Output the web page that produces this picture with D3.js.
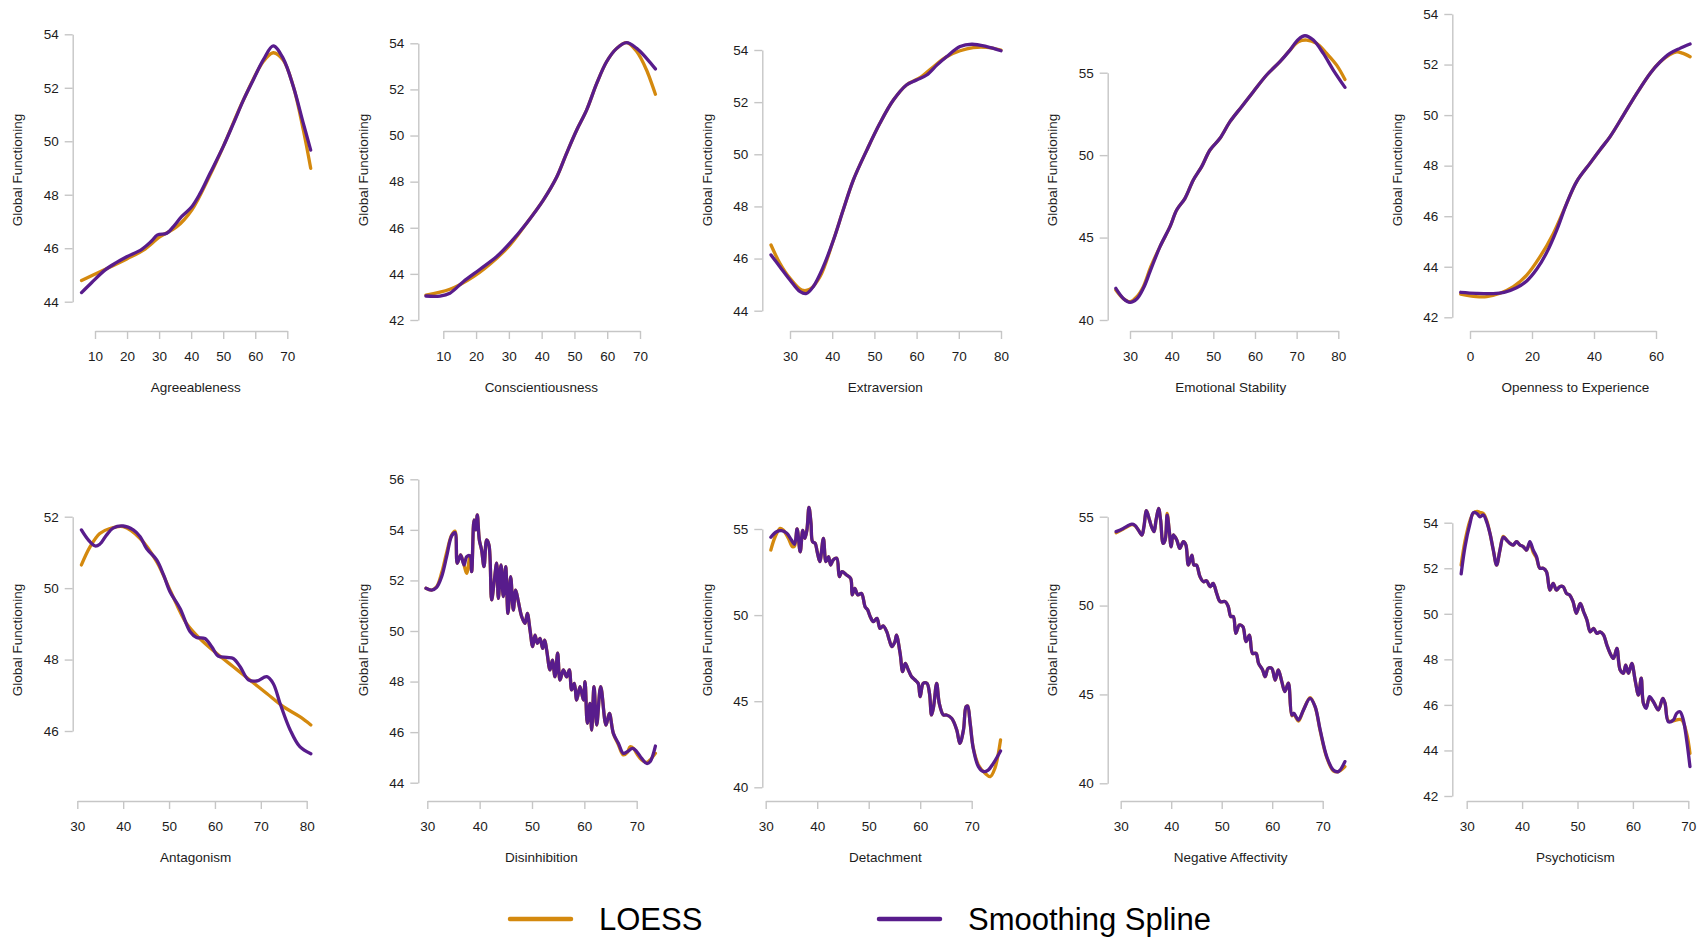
<!DOCTYPE html>
<html>
<head>
<meta charset="utf-8">
<script src="https://cdn.jsdelivr.net/npm/d3@7"></script>
<style>
  body { margin: 0; background: #fff; }
  svg text { font-family: "Liberation Sans", Arial, Helvetica, sans-serif; fill: #1c1c1c; }
</style>
</head>
<body>
<svg id="chart" width="1702" height="938"></svg>
<script>
// Trait names, in panel order (top row: Big Five, bottom row: PID-5 domains)

const traitNames = [
  "Agreeableness", "Conscientiousness", "Extraversion", "Emotional Stability", "Openness to Experience",
  "Antagonism", "Disinhibition", "Detachment", "Negative Affectivity", "Psychoticism"
];

// Tick labels of every panel

const xTickSets = [
  [10, 20, 30, 40, 50, 60, 70],
  [10, 20, 30, 40, 50, 60, 70],
  [30, 40, 50, 60, 70, 80],
  [30, 40, 50, 60, 70, 80],
  [0, 20, 40, 60],
  [30, 40, 50, 60, 70, 80],
  [30, 40, 50, 60, 70],
  [30, 40, 50, 60, 70],
  [30, 40, 50, 60, 70],
  [30, 40, 50, 60, 70]
];

const yTickSets = [
  [44, 46, 48, 50, 52, 54],
  [42, 44, 46, 48, 50, 52, 54],
  [44, 46, 48, 50, 52, 54],
  [40, 45, 50, 55],
  [42, 44, 46, 48, 50, 52, 54],
  [46, 48, 50, 52],
  [44, 46, 48, 50, 52, 54, 56],
  [40, 45, 50, 55],
  [40, 45, 50, 55],
  [42, 44, 46, 48, 50, 52, 54]
];

// Curves: [trait score, global functioning]

const agreeLoess = [[5.8,44.79],[11.6,45.12],[19.9,45.6],[25.1,45.93],[30.3,46.43],[35.5,46.8],[40.2,47.43],[45.9,48.74],[50,49.8],[56.3,51.54],[62.5,52.98],[65.6,53.31],[68.7,53.04],[71.9,52.04],[75,50.42],[77.3,48.99]];
const agreeSpline = [[5.8,44.34],[9,44.72],[13.1,45.18],[16.5,45.45],[19.9,45.68],[24.6,45.96],[27.5,46.25],[29.5,46.5],[32.4,46.56],[34.4,46.8],[37,47.18],[40.2,47.55],[42.8,48.05],[45.9,48.8],[50,49.8],[53.2,50.67],[56.3,51.54],[59.4,52.3],[62.5,53.04],[65.6,53.57],[68.7,53.1],[71.9,52.04],[75,50.67],[77.3,49.67]];

const conscLoess = [[4.7,43.08],[12,43.33],[19.2,43.88],[26.3,44.68],[30.3,45.25],[35.4,46.2],[40.5,47.2],[44.6,48.2],[47.6,49.23],[50.7,50.24],[53.7,51.1],[56.8,52.26],[59.8,53.2],[62.9,53.78],[65.9,54.03],[69,53.64],[72,52.84],[74.7,51.79]];
const conscSpline = [[4.7,43.04],[9,43.04],[12,43.16],[16.1,43.66],[21.2,44.2],[26.3,44.75],[30.3,45.33],[35.4,46.2],[40.5,47.2],[44.6,48.2],[47.6,49.23],[50.7,50.24],[53.7,51.1],[56.8,52.26],[59.8,53.2],[62.9,53.78],[65.9,54.03],[69,53.78],[72,53.35],[74.7,52.89]];

const extraLoess = [[25.5,46.52],[27.6,45.82],[30,45.24],[32.8,44.79],[34.7,44.82],[37.1,45.3],[40.3,46.71],[42.6,47.86],[45,49.01],[48.2,50.16],[51.3,51.19],[54.5,52.08],[57.6,52.66],[60.8,52.94],[64,53.36],[67.1,53.74],[70.3,53.97],[73.4,54.09],[76.6,54.1],[80,54.0]];
const extraSpline = [[25.5,46.14],[27.6,45.69],[30,45.18],[32.4,44.73],[33.9,44.66],[35.5,44.92],[37.9,45.69],[40.3,46.71],[42.6,47.86],[45,49.01],[48.2,50.16],[51.3,51.19],[54.5,52.08],[57.6,52.66],[60,52.85],[62.4,53.04],[64.8,53.42],[67.1,53.74],[70.3,54.13],[73.1,54.22],[76.6,54.13],[80,53.97]];

const emoLoess = [[26.6,41.82],[28.4,41.3],[30,41.11],[31.6,41.4],[33.2,42.02],[35,43.23],[37.2,44.45],[39.6,45.66],[41.2,46.67],[43.2,47.38],[45.2,48.49],[47.2,49.3],[49.2,50.31],[51.6,51.02],[54,52.03],[56.8,52.94],[59.6,53.85],[62.8,54.86],[66,55.67],[68.4,56.37],[70.4,56.88],[72.4,56.98],[74.8,56.78],[77.2,56.17],[79.6,55.46],[81.6,54.59]];
const emoSpline = [[26.6,41.92],[28.4,41.31],[30,41.07],[31.6,41.27],[33.2,41.92],[34.8,42.93],[37.2,44.45],[39.6,45.66],[41.2,46.67],[43.2,47.38],[45.2,48.49],[47.2,49.3],[49.2,50.31],[51.6,51.02],[54,52.03],[56.8,52.94],[59.6,53.85],[62.8,54.86],[66,55.67],[68.4,56.37],[70.4,57.02],[72,57.24],[74,56.98],[76.4,56.17],[78.8,55.16],[81.6,54.11]];

const openLoess = [[-3,42.92],[2,42.82],[5.4,42.82],[9.7,42.95],[14,43.21],[18.3,43.67],[22.6,44.4],[26.9,45.32],[31.2,46.51],[34.4,47.37],[38.7,48.09],[41.9,48.62],[45.2,49.15],[49.5,50.0],[53.8,50.86],[58.1,51.65],[61.3,52.1],[64.5,52.4],[66.7,52.5],[68.5,52.45],[71,52.31]];
const openSpline = [[-3,42.99],[2,42.95],[7.5,42.94],[11,42.99],[15,43.17],[18.3,43.44],[21.5,43.9],[24.7,44.55],[28,45.46],[31.2,46.51],[34.4,47.37],[38.7,48.09],[41.9,48.62],[45.2,49.15],[49.5,50.0],[53.8,50.86],[58.1,51.65],[61.3,52.1],[64.5,52.44],[67.7,52.64],[71,52.81]];

const antaLoess = [[30.9,50.65],[32.8,51.16],[34.9,51.53],[37.1,51.67],[40,51.72],[43.7,51.39],[47.3,50.74],[50.2,49.95],[53.8,49.01],[56.7,48.59],[60.4,48.17],[64,47.8],[67.6,47.43],[71.3,47.05],[74.9,46.68],[78.5,46.4],[80.9,46.17]];
const antaSpline = [[30.9,51.63],[32.4,51.35],[33.9,51.18],[34.9,51.23],[36.4,51.49],[37.8,51.68],[40,51.74],[42.2,51.63],[43.7,51.44],[45.1,51.11],[47.3,50.79],[48.8,50.37],[50.2,49.9],[52.4,49.43],[54.6,48.78],[56,48.62],[57.8,48.59],[59.3,48.36],[60.7,48.1],[62.6,48.06],[64,48.03],[65.5,47.8],[67.3,47.43],[69.1,47.4],[71.3,47.52],[72.7,47.33],[74.2,46.77],[76.4,46.03],[78.5,45.56],[80.9,45.36]];

const disLoess = [[29.75,51.69],[30.83,51.62],[31.78,51.75],[32.74,52.3],[33.69,53.1],[34.65,53.8],[35.29,53.95],[35.73,52.68],[36.37,53.01],[37.01,52.61],[37.52,52.28],[38.15,52.97],[38.47,52.35],[38.92,54.39],[39.24,54.0],[39.55,54.59],[39.94,53.6],[40.38,53.2],[40.83,52.55],[41.34,53.6],[41.78,53.4],[42.29,51.23],[42.74,51.89],[43.25,52.68],[43.57,51.29],[44.08,52.61],[44.52,51.36],[44.97,52.55],[45.41,50.7],[45.92,52.15],[46.43,50.83],[46.88,51.62],[47.39,51.16],[48.03,50.57],[48.66,50.3],[49.11,50.7],[49.62,50.04],[50.13,49.38],[50.57,49.84],[51.02,49.51],[51.53,49.71],[52.04,49.31],[52.42,49.64],[52.8,49.25],[53.44,48.46],[53.89,48.85],[54.39,48.19],[54.9,49.12],[55.35,48.06],[55.99,48.46],[56.62,48.19],[57.13,48.46],[57.58,47.67],[58.09,47.93],[58.54,47.27],[59.17,47.8],[59.81,47.27],[60.13,48.0],[60.57,46.35],[61.08,47.14],[61.4,46.08],[61.85,47.8],[62.36,46.28],[63.12,47.8],[64.14,46.28],[64.78,46.74],[65.54,45.95],[66.5,45.5],[67.45,45.1],[68.22,45.2],[68.73,45.42],[69.4,45.35],[70,45.15],[70.96,44.9],[71.91,44.8],[72.55,44.9],[73.57,45.16]];
const disSpline = [[29.75,51.69],[30.83,51.62],[31.78,51.73],[32.74,52.15],[33.69,52.94],[34.65,53.76],[35.29,53.89],[35.73,52.68],[36.37,53.01],[37.01,52.61],[37.52,52.94],[38.15,52.97],[38.47,52.35],[38.92,54.39],[39.24,54.0],[39.55,54.59],[39.94,53.6],[40.38,53.2],[40.83,52.55],[41.34,53.6],[41.78,53.4],[42.29,51.23],[42.74,51.89],[43.25,52.68],[43.57,51.29],[44.08,52.61],[44.52,51.36],[44.97,52.55],[45.41,50.7],[45.92,52.15],[46.43,50.83],[46.88,51.62],[47.39,51.16],[48.03,50.57],[48.66,50.3],[49.11,50.7],[49.62,50.04],[50.13,49.38],[50.57,49.84],[51.02,49.51],[51.53,49.71],[52.04,49.31],[52.42,49.64],[52.8,49.25],[53.44,48.46],[53.89,48.85],[54.39,48.19],[54.9,49.12],[55.35,48.06],[55.99,48.46],[56.62,48.19],[57.13,48.46],[57.58,47.67],[58.09,47.93],[58.54,47.27],[59.17,47.8],[59.81,47.27],[60.13,48.0],[60.57,46.35],[61.08,47.14],[61.4,46.08],[61.85,47.8],[62.36,46.28],[63.12,47.8],[64.14,46.28],[64.78,46.74],[65.54,45.95],[66.5,45.56],[67.45,45.16],[68.22,45.23],[69.24,45.36],[70,45.23],[70.96,44.96],[71.91,44.76],[72.55,44.83],[73.57,45.45]];

const detLoess = [[31,53.78],[31.8,54.52],[32.8,55.04],[33.4,54.94],[34.4,54.46],[35.2,53.97],[35.6,54.0],[36.1,55.0],[36.7,53.68],[37.2,54.92],[37.6,54.46],[38,54.94],[38.4,56.26],[38.8,55.33],[39.1,54.26],[39.6,54.17],[40,53.68],[40.5,53.1],[41.2,54.46],[41.7,53.1],[42.2,53.39],[42.6,52.91],[43.1,53.2],[43.8,53.3],[44.3,52.23],[44.8,52.52],[45.7,52.33],[46.5,52.13],[46.8,51.17],[47.3,51.55],[47.9,51.17],[48.6,51.26],[49.3,50.49],[49.8,50.3],[50.3,49.91],[50.9,49.62],[51.6,49.81],[52.2,49.23],[52.8,49.37],[53.5,49.04],[54,48.55],[54.5,48.17],[55.1,48.46],[55.4,48.84],[56.1,47.78],[56.6,46.72],[57.1,47.2],[57.7,46.81],[58.3,46.43],[59,46.23],[59.6,46.04],[60,45.26],[60.6,46.04],[61.3,46.04],[61.8,45.46],[62.2,44.2],[62.6,44.68],[63.2,46.04],[63.7,44.88],[64.5,44.2],[65.1,44.2],[66.1,44.01],[67.1,43.33],[67.7,42.55],[68.4,43.33],[68.9,44.68],[69.2,44.72],[69.7,43.72],[70.3,42.3],[71.3,41.3],[72.6,40.81],[73.6,40.62],[74.5,41.1],[75.6,42.75]];
const detSpline = [[31,54.52],[32.1,54.84],[33.1,54.9],[34.1,54.75],[35,54.36],[35.6,54.11],[36.1,55.0],[36.7,53.68],[37.2,54.92],[37.6,54.46],[38,54.94],[38.4,56.26],[38.8,55.33],[39.1,54.26],[39.6,54.17],[40,53.68],[40.5,53.1],[41.2,54.46],[41.7,53.1],[42.2,53.39],[42.6,52.91],[43.1,53.2],[43.8,53.3],[44.3,52.23],[44.8,52.52],[45.7,52.33],[46.5,52.13],[46.8,51.17],[47.3,51.55],[47.9,51.17],[48.6,51.26],[49.3,50.49],[49.8,50.3],[50.3,49.91],[50.9,49.62],[51.6,49.81],[52.2,49.23],[52.8,49.37],[53.5,49.04],[54,48.55],[54.5,48.17],[55.1,48.46],[55.4,48.84],[56.1,47.78],[56.6,46.72],[57.1,47.2],[57.7,46.81],[58.3,46.43],[59,46.23],[59.6,46.04],[60,45.26],[60.6,46.04],[61.3,46.04],[61.8,45.46],[62.2,44.2],[62.6,44.68],[63.2,46.04],[63.7,44.88],[64.5,44.2],[65.1,44.2],[66.1,44.01],[67.1,43.33],[67.7,42.55],[68.4,43.33],[68.9,44.68],[69.2,44.72],[69.7,43.72],[70.3,42.26],[71.3,41.2],[72.3,40.91],[73.2,41.0],[74.2,41.39],[75.6,42.11]];

const negLoess = [[29.1,54.1],[30.5,54.3],[32.2,54.55],[32.8,54.5],[33.5,54.25],[34.2,53.97],[34.6,54.44],[35.1,55.34],[35.7,54.81],[36.1,54.44],[36.6,54.16],[37,54.81],[37.5,55.47],[37.9,54.81],[38.4,53.5],[38.8,53.69],[39.2,55.19],[39.6,54.25],[40,53.31],[40.4,53.97],[41.1,53.69],[41.7,53.22],[42.4,53.59],[42.9,53.41],[43.4,52.28],[44.1,52.84],[44.5,52.28],[45,52.28],[45.7,51.63],[46.4,51.34],[47,51.4],[47.7,51.06],[48.3,51.25],[49,50.69],[49.7,50.22],[50.7,50.22],[51.3,49.94],[51.8,49.38],[52.3,49.38],[52.8,48.44],[53.5,48.91],[54.2,48.81],[54.8,47.97],[55.5,48.34],[56.1,47.31],[56.8,47.31],[57.3,46.75],[58.1,46.38],[58.6,46],[59.2,46.47],[59.9,46.47],[60.6,45.81],[61.2,46.38],[61.9,45.72],[62.5,45.16],[63.2,45.63],[63.9,43.8],[64.3,43.9],[64.7,43.7],[65.2,43.5],[66.2,44.13],[67.5,44.82],[68.5,44.3],[69.5,42.95],[70.8,41.45],[72.1,40.7],[73.1,40.66],[74.4,40.94]];
const negSpline = [[29.1,54.16],[30.5,54.34],[32.2,54.58],[32.8,54.52],[33.5,54.25],[34.2,53.97],[34.6,54.44],[35.1,55.34],[35.7,54.81],[36.1,54.44],[36.6,54.16],[37,54.81],[37.5,55.47],[37.9,54.81],[38.4,53.5],[38.8,53.69],[39.2,55.09],[39.6,54.25],[40,53.31],[40.4,53.97],[41.1,53.69],[41.7,53.22],[42.4,53.59],[42.9,53.41],[43.4,52.28],[44.1,52.84],[44.5,52.28],[45,52.28],[45.7,51.63],[46.4,51.34],[47,51.4],[47.7,51.06],[48.3,51.25],[49,50.69],[49.7,50.22],[50.7,50.22],[51.3,49.94],[51.8,49.38],[52.3,49.38],[52.8,48.44],[53.5,48.91],[54.2,48.81],[54.8,47.97],[55.5,48.34],[56.1,47.31],[56.8,47.31],[57.3,46.75],[58.1,46.38],[58.6,46],[59.2,46.47],[59.9,46.47],[60.6,45.81],[61.2,46.38],[61.9,45.72],[62.5,45.16],[63.2,45.63],[63.9,43.84],[64.3,43.94],[64.7,43.75],[65.2,43.56],[66.2,44.13],[67.5,44.78],[68.5,44.31],[69.5,43],[70.8,41.5],[72.1,40.75],[73.1,40.66],[74.4,41.22]];

const psyLoess = [[29,52.14],[29.7,53.2],[30.6,54.1],[31.2,54.42],[31.9,54.5],[32.4,54.45],[33,54.4],[33.6,54.1],[34.2,53.53],[34.8,52.8],[35.4,52.14],[36,52.8],[36.6,53.4],[37.2,53.24],[37.8,53.09],[38.4,53.02],[39,53.17],[39.6,53.02],[40.2,52.95],[40.8,52.8],[41.4,53.1],[42,52.7],[42.6,52.45],[43.2,52],[43.8,52],[44.4,51.85],[45,51.04],[45.6,51.34],[46.2,51.04],[46.8,51.19],[47.4,51.19],[48,50.9],[48.6,50.82],[49.2,50.53],[49.8,50.02],[50.5,50.46],[51.1,50.09],[51.7,49.73],[52.3,49.21],[52.9,49.36],[53.5,49.14],[54.1,49.21],[54.7,49.07],[55.3,48.63],[55.9,48.26],[56.5,48.04],[57.1,48.48],[57.7,47.53],[58.3,47.39],[58.7,47.75],[59.2,47.39],[59.8,47.82],[60.4,47.09],[61,46.43],[61.5,47.17],[61.9,46.07],[62.4,45.9],[63,46.3],[63.7,46.14],[64.6,45.78],[65.4,46.29],[65.8,46.07],[66.4,45.3],[67.3,45.3],[67.9,45.34],[68.8,45.34],[69.7,44.75],[70.3,43.87]];
const psySpline = [[29,51.75],[29.7,52.95],[30.6,53.97],[31.2,54.44],[31.8,54.41],[32.4,54.26],[33,54.34],[33.6,54.04],[34.2,53.53],[34.8,52.8],[35.4,52.14],[36,52.8],[36.6,53.36],[37.2,53.24],[37.8,53.09],[38.4,53.02],[39,53.17],[39.6,53.02],[40.2,52.95],[40.8,52.8],[41.4,53.17],[42,52.8],[42.6,52.51],[43.2,52],[43.8,52],[44.4,51.85],[45,51.04],[45.6,51.34],[46.2,51.04],[46.8,51.19],[47.4,51.19],[48,50.9],[48.6,50.82],[49.2,50.53],[49.8,50.02],[50.5,50.46],[51.1,50.09],[51.7,49.73],[52.3,49.21],[52.9,49.36],[53.5,49.14],[54.1,49.21],[54.7,49.07],[55.3,48.63],[55.9,48.26],[56.5,48.04],[57.1,48.48],[57.7,47.53],[58.3,47.39],[58.7,47.75],[59.2,47.39],[59.8,47.82],[60.4,47.09],[61,46.43],[61.5,47.17],[61.9,46.07],[62.4,45.85],[63,46.36],[63.7,46.14],[64.6,45.78],[65.4,46.29],[65.8,46.07],[66.4,45.26],[67.3,45.34],[67.9,45.63],[68.5,45.7],[69.1,45.34],[69.7,44.46],[70.3,43.29]];

const loessSeries = [agreeLoess, conscLoess, extraLoess, emoLoess, openLoess, antaLoess, disLoess, detLoess, negLoess, psyLoess];
const splineSeries = [agreeSpline, conscSpline, extraSpline, emoSpline, openSpline, antaSpline, disSpline, detSpline, negSpline, psySpline];

const legendLabels = ["LOESS", "Smoothing Spline"];

// Colors and sizes

const loessColor = "#d4890e";
const splineColor = "#581c8c";
const axisColor = "#c6c6c6";
const lineWidth = 3.3;

// Panel frames, in pixels: y axis x position, pixel of lowest / highest y tick,
// pixel of first / last x tick (each panel has its own scale, as in the original)

const frames = [
  [72.7, 301.7, 34.3, 95, 287.3],
  [418.3, 320, 43.3, 443.3, 640],
  [762.3, 310.7, 50, 790, 1001],
  [1107.7, 320, 72.7, 1130, 1338.3],
  [1452.3, 317.3, 14, 1470, 1656],
  [72.7, 731, 516.7, 77.3, 306.7],
  [418.3, 782.7, 479.3, 427.3, 636.7],
  [762.3, 787.3, 529, 765.7, 971.7],
  [1107.7, 783.3, 516.7, 1120.7, 1322.7],
  [1452.3, 796, 522.7, 1466.7, 1688.3]
];

const rows = [
  { axisY: 331, titleY: 392, yTitleY: 170 },
  { axisY: 801, titleY: 862, yTitleY: 640 }
];

const svg = d3.select("#chart");

// Draw one panel

function drawPanel(i) {
  const f = frames[i];
  const row = rows[i < 5 ? 0 : 1];
  const xt = xTickSets[i];
  const yt = yTickSets[i];

  const x = d3.scaleLinear()
    .domain([xt[0], xt[xt.length - 1]])
    .range([f[3], f[4]]);

  const y = d3.scaleLinear()
    .domain([yt[0], yt[yt.length - 1]])
    .range([f[1], f[2]]);

  const g = svg.append("g").attr("class", "panel");

  // axes (R style: line only spans the tick range)

  const xAxis = g.append("g")
    .attr("transform", "translate(0," + row.axisY + ")")
    .call(d3.axisBottom(x).tickValues(xt).tickFormat(d3.format("d"))
      .tickSize(8).tickSizeOuter(0).tickPadding(12));

  const yAxis = g.append("g")
    .attr("transform", "translate(" + f[0] + ",0)")
    .call(d3.axisLeft(y).tickValues(yt).tickFormat(d3.format("d"))
      .tickSize(8).tickSizeOuter(0).tickPadding(6));

  [xAxis, yAxis].forEach((a) => {
    a.select(".domain").attr("stroke", axisColor).attr("stroke-width", 1.4);
    a.selectAll(".tick line").attr("stroke", axisColor).attr("stroke-width", 1.4);
    a.selectAll(".tick text")
      .attr("fill", "#1c1c1c")
      .style("font-size", "13.5px")
      .style("font-family", "'Liberation Sans', Arial, sans-serif");
  });

  // axis titles

  g.append("text")
    .attr("x", f[0] + 123)
    .attr("y", row.titleY)
    .attr("text-anchor", "middle")
    .style("font-size", "13.5px")
    .text(traitNames[i]);

  g.append("text")
    .attr("transform", "translate(" + (f[0] - 55) + "," + row.yTitleY + ") rotate(-90)")
    .attr("text-anchor", "middle")
    .attr("dominant-baseline", "central")
    .style("font-size", "13.5px")
    .text("Global Functioning");

  // curves: LOESS underneath, spline on top

  const line = d3.line()
    .x((d) => x(d[0]))
    .y((d) => y(d[1]))
    .curve(d3.curveCatmullRom.alpha(0.5));

  g.append("path")
    .datum(loessSeries[i])
    .attr("fill", "none")
    .attr("stroke", loessColor)
    .attr("stroke-width", lineWidth)
    .attr("stroke-linejoin", "round")
    .attr("stroke-linecap", "round")
    .attr("d", line);

  g.append("path")
    .datum(splineSeries[i])
    .attr("fill", "none")
    .attr("stroke", splineColor)
    .attr("stroke-width", lineWidth)
    .attr("stroke-linejoin", "round")
    .attr("stroke-linecap", "round")
    .attr("d", line);
}

d3.range(traitNames.length).forEach(drawPanel);

// Legend

const legend = svg.append("g").attr("class", "legend");
const legendX = [510, 879];
const legendColors = [loessColor, splineColor];

legendLabels.forEach((label, i) => {
  legend.append("line")
    .attr("x1", legendX[i])
    .attr("x2", legendX[i] + 61)
    .attr("y1", 919)
    .attr("y2", 919)
    .attr("stroke", legendColors[i])
    .attr("stroke-width", 4.5)
    .attr("stroke-linecap", "round");

  legend.append("text")
    .attr("x", legendX[i] + 89)
    .attr("y", 930)
    .style("font-size", "31px")
    .style("fill", "#000")
    .text(label);
});
</script>
</body>
</html>
